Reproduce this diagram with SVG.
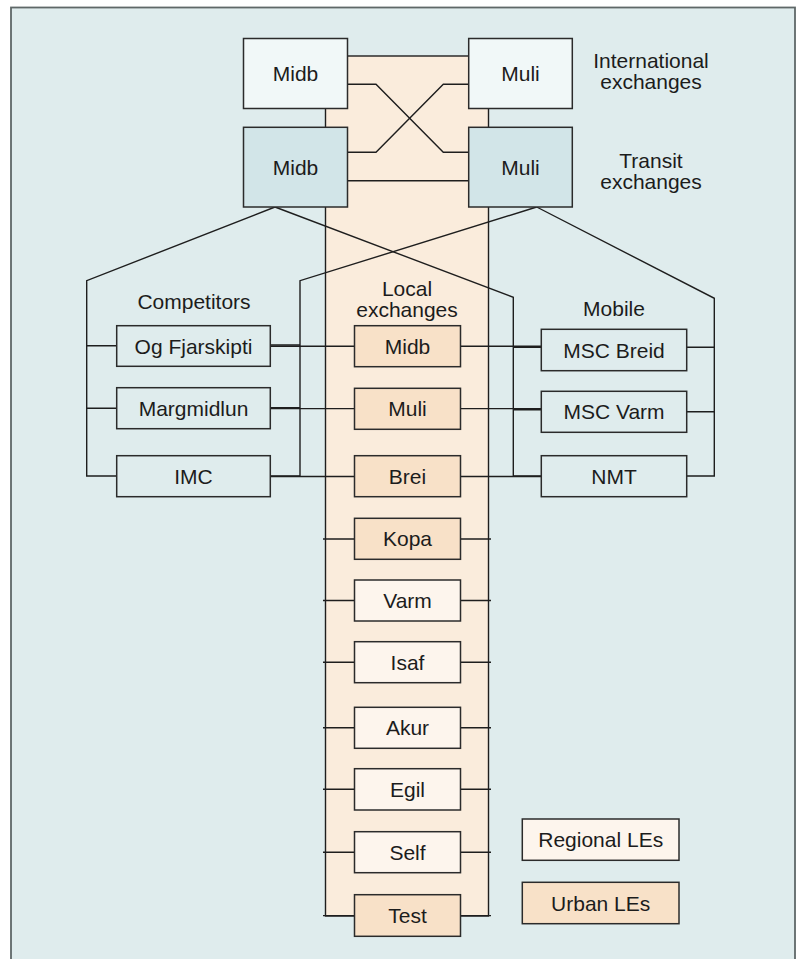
<svg xmlns="http://www.w3.org/2000/svg" width="798" height="959" viewBox="0 0 798 959">
<style>
.box{stroke:#2b2b2b;stroke-width:1.5}
.intl{fill:#f1f8f8}
.tran{fill:#d2e5e8}
.comp{fill:#dfeced}
.urb{fill:#f8e1c8}
.reg{fill:#fdf5ed}
text{font-family:"Liberation Sans",Arial,sans-serif;font-size:21px;fill:#1c1c1c;text-anchor:middle}
.ln{fill:none;stroke:#1e1e1e;stroke-width:1.4}
</style>
<rect x="0" y="0" width="798" height="959" fill="#ffffff"/>
<rect id="frame" x="11" y="7.5" width="784" height="1000" fill="#dfeced" stroke="#5f6868" stroke-width="1.8"/>
<rect id="band" x="325.5" y="56" width="163" height="860" fill="#faecdc" stroke="#1e1e1e" stroke-width="1.4"/>
<g id="connectors" class="ln">
<path d="M347 84.3H376L443.3 152.3H469"/>
<path d="M469 84.3H443.3L376 152.3H347"/>
<path d="M347 180.7H469"/>
<path d="M275 207L86.7 280.7V476H117"/>
<path d="M86.7 345.7H117M86.7 408.3H117"/>
<path d="M275 207L513.3 297.3V476H541"/>
<path d="M513.3 347.3H541M513.3 409.8H541"/>
<path d="M536.7 207L300 280.7V476H270"/>
<path d="M300 345H270M300 407.6H270"/>
<path d="M536.7 207L714.3 298.3V476H687"/>
<path d="M714.3 347.3H687M714.3 411.7H687"/>
<path d="M270 346.2H355M460 346.2H541"/>
<path d="M270 408.6H355M460 408.6H541"/>
<path d="M270 476.5H355M460 476.5H541"/>
<path d="M323 539H355M460 539H491"/>
<path d="M323 600.5H355M460 600.5H491"/>
<path d="M323 662.2H355M460 662.2H491"/>
<path d="M323 727.8H355M460 727.8H491"/>
<path d="M323 789.3H355M460 789.3H491"/>
<path d="M323 852.2H355M460 852.2H491"/>
<path d="M323 915.6H355M460 915.6H491"/>
</g>
<g id="intl-midb"><rect class="box intl" x="243.5" y="38.5" width="104" height="70"/><text x="295.5" y="81">Midb</text></g>
<g id="intl-muli"><rect class="box intl" x="468.7" y="38.5" width="103.6" height="70"/><text x="520.5" y="81">Muli</text></g>
<g id="tran-midb"><rect class="box tran" x="243.5" y="127.3" width="104" height="79.7"/><text x="295.5" y="174.5">Midb</text></g>
<g id="tran-muli"><rect class="box tran" x="468.7" y="127.3" width="103.6" height="79.7"/><text x="520.5" y="174.5">Muli</text></g>
<g id="lbl-intl"><text x="651" y="67.5">International</text><text x="651" y="88.5">exchanges</text></g>
<g id="lbl-tran"><text x="651" y="167.5">Transit</text><text x="651" y="188.5">exchanges</text></g>
<g id="lbl-comp"><text x="194" y="309">Competitors</text></g>
<g id="lbl-local"><text x="407" y="296">Local</text><text x="407" y="316.5">exchanges</text></g>
<g id="lbl-mobile"><text x="614" y="316">Mobile</text></g>
<g id="c-og"><rect class="box comp" x="116.7" y="325.7" width="153.6" height="40.6"/><text x="193.5" y="353.5">Og Fjarskipti</text></g>
<g id="c-marg"><rect class="box comp" x="116.7" y="387.7" width="153.6" height="41"/><text x="193.5" y="415.7">Margmidlun</text></g>
<g id="c-imc"><rect class="box comp" x="116.7" y="455.7" width="153.6" height="41"/><text x="193.5" y="483.7">IMC</text></g>
<g id="m-breid"><rect class="box comp" x="541.3" y="329.3" width="145.4" height="41.4"/><text x="614" y="357.5">MSC Breid</text></g>
<g id="m-varm"><rect class="box comp" x="541.3" y="391.3" width="145.4" height="41"/><text x="614" y="419.3">MSC Varm</text></g>
<g id="m-nmt"><rect class="box comp" x="541.3" y="455.7" width="145.4" height="41"/><text x="614" y="483.7">NMT</text></g>
<g id="le-midb"><rect class="box urb" x="354.5" y="325.7" width="106" height="41"/><text x="407.5" y="353.7">Midb</text></g>
<g id="le-muli"><rect class="box urb" x="354.5" y="388.3" width="106" height="41"/><text x="407.5" y="416.3">Muli</text></g>
<g id="le-brei"><rect class="box urb" x="354.5" y="455.7" width="106" height="41"/><text x="407.5" y="483.7">Brei</text></g>
<g id="le-kopa"><rect class="box urb" x="354.5" y="518.3" width="106" height="41"/><text x="407.5" y="546.3">Kopa</text></g>
<g id="le-varm"><rect class="box reg" x="354.5" y="580" width="106" height="41"/><text x="407.5" y="608">Varm</text></g>
<g id="le-isaf"><rect class="box reg" x="354.5" y="641.7" width="106" height="41"/><text x="407.5" y="669.7">Isaf</text></g>
<g id="le-akur"><rect class="box reg" x="354.5" y="707.3" width="106" height="41"/><text x="407.5" y="735.3">Akur</text></g>
<g id="le-egil"><rect class="box reg" x="354.5" y="768.7" width="106" height="41.3"/><text x="407.5" y="796.8">Egil</text></g>
<g id="le-self"><rect class="box reg" x="354.5" y="831.7" width="106" height="41"/><text x="407.5" y="859.7">Self</text></g>
<g id="le-test"><rect class="box urb" x="354.5" y="894.7" width="106" height="41.6"/><text x="407.5" y="923">Test</text></g>
<g id="legend-regional"><rect class="box reg" x="522.3" y="819" width="156.7" height="41.3"/><text x="600.7" y="847.3">Regional LEs</text></g>
<g id="legend-urban"><rect class="box urb" x="522.3" y="882.3" width="156.7" height="41.4"/><text x="600.7" y="910.5">Urban LEs</text></g>
</svg>
